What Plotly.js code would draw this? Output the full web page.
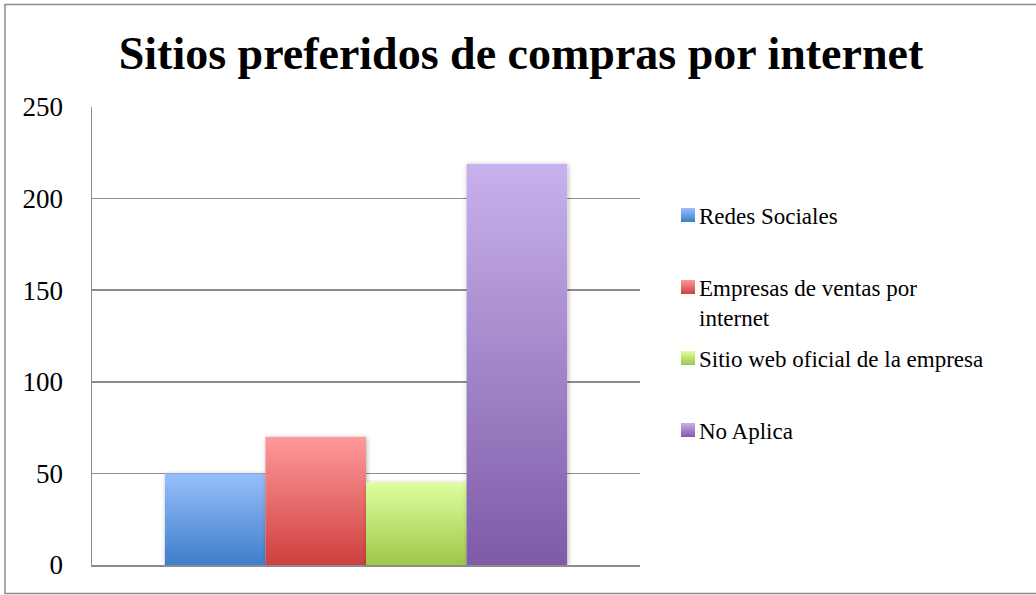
<!DOCTYPE html>
<html>
<head>
<meta charset="utf-8">
<script src="https://cdn.plot.ly/plotly-3.0.1.min.js"></script>
<style>
html,body{margin:0;padding:0;background:#fff;}
#chart{width:1036px;height:595px;}
</style>
</head>
<body>
<div id="chart"></div>
<script>
// ---- data ----
const chartTitle = "Sitios preferidos de compras por internet";
const seriesNames = ["Redes Sociales", "Empresas de ventas por<br>internet", "Sitio web oficial de la empresa", "No Aplica"];
const seriesValues = [50, 70, 45, 219];
const category = ["Sitios"];
const yTicks = [0, 50, 100, 150, 200, 250];

// ---- styling ----
const gradTop = ["#98bffb", "#fe9a9a", "#ddff9e", "#c8b1ec"];
const gradBottom = ["#3d7ecb", "#cf3f3f", "#9fc74b", "#7e5ba7"];
const fontFam = "Liberation Serif, DejaVu Serif, serif";

const legendNames = ["legend", "legend2", "legend3", "legend4"];
const legendY = [215, 302, 358, 430]; // pixel rows (centres) of legend entries
const H = 595, W = 1036;
const mT = 107, mB = 30, mL = 92, mR = 396;
const plotH = H - mT - mB;
const plotW = W - mL - mR;

const traces = seriesNames.map((n, i) => ({
  type: "bar",
  name: n,
  x: category,
  y: [seriesValues[i]],
  marker: {color: gradBottom[i], line: {width: 0}},
  legend: legendNames[i],
  hoverinfo: "skip"
}));

const layout = {
  width: W, height: H,
  margin: {l: mL, r: mR, t: mT, b: mB, pad: 0},
  paper_bgcolor: "#fff", plot_bgcolor: "#fff",
  font: {family: fontFam, size: 23, color: "#000"},
  title: {
    text: "<b>" + chartTitle + "</b>",
    font: {family: fontFam, size: 46, color: "#000"},
    x: 521 / W, xanchor: "center", xref: "container",
    y: 1 - 53 / H, yanchor: "middle", yref: "container"
  },
  barmode: "group",
  bargap: 0.266,
  bargroupgap: 0,
  showlegend: true,
  xaxis: {
    showticklabels: false, ticks: "", showgrid: false,
    showline: true, linecolor: "#8c8c8c", linewidth: 1.5,
    zeroline: false, fixedrange: true
  },
  yaxis: {
    range: [0, 250], tickvals: yTicks, ticktext: yTicks.map(String),
    showgrid: true, gridcolor: "#8c8c8c", gridwidth: 1.5,
    showline: true, linecolor: "#8c8c8c", linewidth: 1.5,
    zeroline: false, ticks: "outside", ticklen: 22, tickcolor: "rgba(0,0,0,0)",
    tickfont: {family: fontFam, size: 27, color: "#000"}, fixedrange: true
  },
  shapes: [{
    type: "rect", xref: "paper", yref: "paper",
    x0: (5 - mL) / plotW, x1: (1040 - mL) / plotW,
    y0: (H - mB - 593.5) / plotH, y1: (H - mB - 4.5) / plotH,
    line: {color: "#8c8c8c", width: 1.5}, fillcolor: "rgba(0,0,0,0)", layer: "below"
  }]
};

legendNames.forEach((ln, i) => {
  layout[ln] = {
    x: (659 - mL) / plotW, xanchor: "left",
    y: (H - mB - legendY[i]) / plotH, yanchor: "middle",
    valign: "top",
    bgcolor: "rgba(0,0,0,0)", borderwidth: 0,
    font: {family: fontFam, size: 23, color: "#000"},
    itemwidth: 30
  };
});

Plotly.newPlot("chart", traces, layout, {displayModeBar: false, staticPlot: true}).then(gd => {
  const svg = gd.querySelector("svg.main-svg");
  const ns = "http://www.w3.org/2000/svg";
  let defs = svg.querySelector("defs");
  if (!defs) { defs = document.createElementNS(ns, "defs"); svg.insertBefore(defs, svg.firstChild); }
  const f = document.createElementNS(ns, "filter");
  f.setAttribute("id", "barShadow");
  f.setAttribute("x", "-10%"); f.setAttribute("y", "-5%");
  f.setAttribute("width", "125%"); f.setAttribute("height", "115%");
  f.innerHTML = '<feGaussianBlur in="SourceAlpha" stdDeviation="2.5"/><feOffset dx="1" dy="1" result="b"/>' +
    '<feComponentTransfer><feFuncA type="linear" slope="0.3"/></feComponentTransfer>' +
    '<feMerge><feMergeNode/><feMergeNode in="SourceGraphic"/></feMerge>';
  defs.appendChild(f);
  gradTop.forEach((c, i) => {
    const g = document.createElementNS(ns, "linearGradient");
    g.setAttribute("id", "grad" + i);
    g.setAttribute("x1", "0"); g.setAttribute("y1", "0");
    g.setAttribute("x2", "0"); g.setAttribute("y2", "1");
    g.innerHTML = '<stop offset="0" stop-color="' + c + '"/><stop offset="1" stop-color="' + gradBottom[i] + '"/>';
    defs.appendChild(g);
  });
  gd.querySelectorAll(".barlayer .trace").forEach((t, i) => {
    t.querySelectorAll("path").forEach(p => {
      p.style.fill = "url(#grad" + i + ")";
      p.style.filter = "url(#barShadow)";
    });
  });
  gd.querySelectorAll("g.traces").forEach(tg => {
    let idx = -1;
    const d = tg.__data__;
    if (d && d[0] && d[0].trace) idx = d[0].trace.index;
    else if (d && d[0] && d[0][0] && d[0][0].trace) idx = d[0][0].trace.index;
    if (idx < 0) {
      const txt = tg.querySelector("text.legendtext");
      if (txt) idx = seriesNames.findIndex(s => s.replace("<br>", "") === txt.textContent.replace(/\s+/g, "") || txt.textContent.startsWith(s.split("<br>")[0].slice(0, 8)));
    }
    tg.querySelectorAll(".legendpoints path").forEach(p => {
      if (idx >= 0) p.style.fill = "url(#grad" + idx + ")";
      p.setAttribute("transform", "translate(29,0) scale(1.17)");
    });
  });
});
</script>
</body>
</html>
